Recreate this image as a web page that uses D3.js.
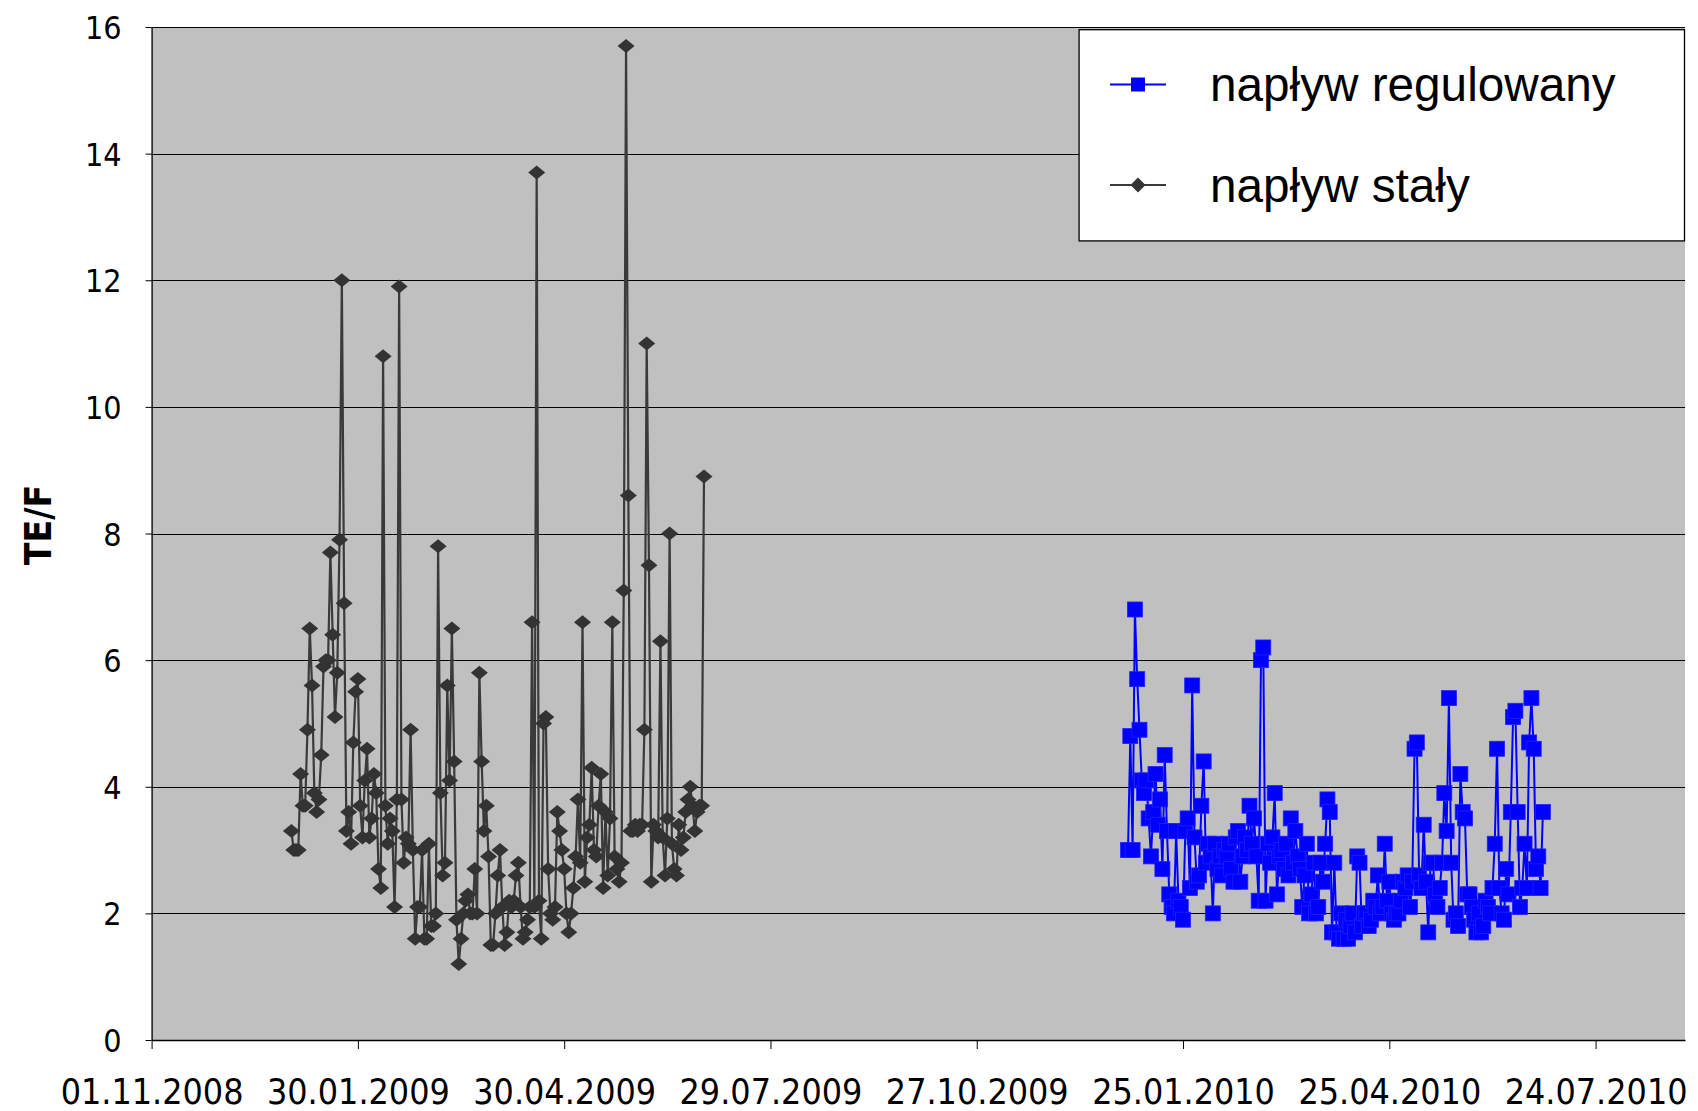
<!DOCTYPE html>
<html>
<head>
<meta charset="utf-8">
<script src="https://cdn.jsdelivr.net/npm/d3@7"></script>
<style>
  html, body { margin: 0; padding: 0; background: #ffffff; }
  svg { display: block; }
</style>
</head>
<body>
<svg id="chart" width="1698" height="1111"></svg>
<script>
// ---------------- DATA ----------------
const xTickLabels = ["01.11.2008", "30.01.2009", "30.04.2009", "29.07.2009",
                     "27.10.2009", "25.01.2010", "25.04.2010", "24.07.2010"];
const xDomainLabels = ["01.11.2008", "01.09.2010"];
const yTicks = [0, 2, 4, 6, 8, 10, 12, 14, 16];
const seriesNames = ["napływ regulowany", "napływ stały"];

// napływ regulowany: daily values starting 01.01.2010
const regulowanyStart = "01.01.2010";
const regulowanyValues = [
  3.0, 4.8, 3.0, 6.8, 5.7, 4.9, 4.1, 3.9, 4.1, 3.5,
  2.9, 3.6, 4.2, 3.4, 3.8, 2.7, 4.5, 3.3, 2.3, 2.1,
  2.0, 3.3, 2.2, 2.1, 1.9, 3.3, 3.5, 2.4, 5.6, 3.2,
  2.5, 2.6, 3.7, 4.4, 2.8, 3.1, 2.9, 2.0, 3.1, 2.7,
  2.9, 2.6, 3.0, 2.9, 3.1, 2.7, 2.5, 3.2, 3.3, 2.5,
  2.9, 3.2, 3.0, 3.7, 3.1, 3.5, 2.9, 2.2, 6.0, 6.2,
  2.2, 3.1, 2.8, 3.2, 3.9, 2.3, 2.9, 3.0, 2.7, 3.1,
  2.6, 3.5, 2.8, 3.3, 2.9, 2.7, 2.1, 2.6, 3.1, 2.0,
  2.3, 2.8, 2.0, 2.1, 2.8, 2.5, 3.1, 3.8, 3.6, 1.7,
  2.8, 1.7, 1.6, 2.0, 1.6, 1.9, 1.6, 1.8, 2.0, 1.7,
  2.9, 2.8, 1.8, 2.0, 2.0, 1.8, 1.9, 2.2, 2.1, 2.6,
  2.0, 2.1, 3.1, 2.2, 2.5, 2.0, 1.9, 2.0, 2.0, 2.2,
  2.5, 2.4, 2.6, 2.1, 2.5, 4.6, 4.7, 2.6, 2.4, 3.4,
  2.5, 1.7, 2.8, 2.8, 2.3, 2.1, 2.4, 2.8, 3.9, 3.3,
  5.4, 2.8, 1.9, 2.0, 1.8, 4.2, 3.6, 3.5, 2.3, 2.3,
  2.1, 1.9, 1.7, 2.0, 1.7, 1.8, 2.2, 2.1, 2.0, 2.4,
  3.1, 4.6, 2.4, 2.0, 1.9, 2.7, 2.3, 3.6, 5.1, 5.2,
  3.6, 2.1, 2.4, 3.1, 2.4, 4.7, 5.4, 4.6, 2.7, 2.9,
  2.4, 3.6
];

// napływ stały: daily values starting 01.01.2009
const stalyStart = "01.01.2009";
const stalyValues = [
  3.3, 3.0, 3.0, 3.0, 4.2, 3.7, 3.7, 4.9, 6.5, 5.6,
  3.9, 3.6, 3.8, 4.5, 5.9, 6.0, 6.0, 7.7, 6.4, 5.1,
  5.8, 7.9, 12.0, 6.9, 3.3, 3.6, 3.1, 4.7, 5.5, 5.7,
  3.7, 3.2, 4.1, 4.6, 3.2, 3.5, 4.2, 3.9, 2.7, 2.4,
  10.8, 3.7, 3.1, 3.5, 3.3, 2.1, 3.8, 11.9, 3.8, 2.8,
  3.2, 3.1, 4.9, 3.0, 1.6, 2.1, 2.1, 3.0, 1.6, 1.6,
  3.1, 1.8, 1.8, 2.0, 7.8, 3.9, 2.6, 2.8, 5.6, 4.1,
  6.5, 4.4, 1.9, 1.2, 1.6, 2.0, 2.2, 2.3, 2.0, 2.0,
  2.7, 2.0, 5.8, 4.4, 3.3, 3.7, 2.9, 1.5, 1.5, 2.0,
  2.6, 3.0, 2.1, 1.5, 1.7, 2.2, 2.1, 2.2, 2.6, 2.8,
  2.1, 1.6, 1.7, 1.9, 2.1, 6.6, 2.1, 13.7, 2.2, 1.6,
  5.0, 5.1, 2.7, 2.0, 1.9, 2.1, 3.6, 3.3, 3.0, 2.7,
  2.0, 1.7, 2.0, 2.4, 2.9, 3.8, 2.8, 6.6, 2.5, 3.2,
  3.4, 4.3, 3.0, 2.9, 3.7, 4.2, 2.4, 3.6, 2.6, 3.5,
  6.6, 2.9, 2.7, 2.5, 2.8, 7.1, 15.7, 8.6, 3.3, 3.3,
  3.4, 3.3, 3.4, 3.4, 4.9, 11.0, 7.5, 2.5, 3.4, 3.3,
  3.2, 6.3, 3.2, 2.6, 3.5, 8.0, 3.1, 2.7, 2.6, 3.4,
  3.0, 3.2, 3.6, 3.8, 4.0, 3.7, 3.3, 3.6, 3.7, 3.7,
  8.9
];

// ---------------- CHART ----------------
const plot = { left: 151.6, right: 1685, top: 27, bottom: 1040 };
const parse = d3.utcParse("%d.%m.%Y");
const fmt = d3.utcFormat("%d.%m.%Y");

const tickFont = "'DejaVu Sans Condensed', 'DejaVu Sans', sans-serif";

const x = d3.scaleUtc()
  .domain(xDomainLabels.map(parse))
  .range([plot.left, plot.right]);
const y = d3.scaleLinear()
  .domain([yTicks[0], yTicks[yTicks.length - 1]])
  .range([plot.bottom, plot.top]);

const build = (start, vals) => {
  const s = parse(start);
  return vals.map((v, i) => ({ date: d3.utcDay.offset(s, i), v }));
};
const regData = build(regulowanyStart, regulowanyValues);
const staData = build(stalyStart, stalyValues);

const svg = d3.select("#chart");

// plot background
svg.append("rect")
  .attr("x", plot.left).attr("y", plot.top)
  .attr("width", plot.right - plot.left)
  .attr("height", plot.bottom - plot.top)
  .attr("fill", "#c0c0c0");

// gridlines
svg.append("g").selectAll("line")
  .data(yTicks.filter(t => t > 0))
  .join("line")
  .attr("x1", plot.left).attr("x2", plot.right)
  .attr("y1", d => Math.round(y(d)) + 0.5).attr("y2", d => Math.round(y(d)) + 0.5)
  .attr("stroke", "#000").attr("stroke-width", 1);

// y axis
const yAxis = svg.append("g")
  .attr("transform", `translate(${plot.left},0)`)
  .call(d3.axisLeft(y).tickValues(yTicks).tickSize(6).tickPadding(24).tickSizeOuter(0));
yAxis.select(".domain").attr("stroke", "#000").attr("stroke-width", 1.3);
yAxis.selectAll(".tick line").attr("stroke", "#000");
yAxis.selectAll("text")
  .attr("font-family", tickFont).attr("font-size", 32).attr("fill", "#000")
  .attr("dy", "0.36em");

// x axis
const xAxis = svg.append("g")
  .attr("transform", `translate(0,${plot.bottom})`)
  .call(d3.axisBottom(x).tickValues(xTickLabels.map(parse)).tickFormat(fmt)
    .tickSize(9).tickPadding(30).tickSizeOuter(0));
xAxis.select(".domain").attr("stroke", "#000").attr("stroke-width", 1.3);
xAxis.selectAll(".tick line").attr("stroke", "#000");
xAxis.selectAll("text")
  .attr("font-family", tickFont).attr("font-size", 35.5).attr("fill", "#000");

// y title
svg.append("text")
  .attr("transform", "translate(51,525) rotate(-90)")
  .attr("text-anchor", "middle")
  .attr("font-family", tickFont)
  .attr("font-weight", "bold")
  .attr("font-size", 37)
  .attr("fill", "#000")
  .text("TE/F");

// lines
const line = d3.line().x(d => x(d.date)).y(d => y(d.v));
const blue = "#0000ff", dark = "#333333";

svg.append("path").datum(regData)
  .attr("d", line).attr("fill", "none")
  .attr("stroke", blue).attr("stroke-width", 2);
svg.append("g").selectAll("rect")
  .data(regData).join("rect")
  .attr("x", d => x(d.date) - 7.5).attr("y", d => y(d.v) - 7.5)
  .attr("width", 15).attr("height", 15)
  .attr("fill", blue).attr("stroke", "#2020ff").attr("stroke-width", 0.8);

svg.append("path").datum(staData)
  .attr("d", line).attr("fill", "none")
  .attr("stroke", "#3a3a3a").attr("stroke-width", 2.2);
const diamond = (w, h) => `M0,${-h}L${w},0L0,${h}L${-w},0Z`;
svg.append("g").selectAll("path")
  .data(staData).join("path")
  .attr("transform", d => `translate(${x(d.date)},${y(d.v)})`)
  .attr("d", diamond(8.5, 7))
  .attr("fill", dark);

// legend
const lg = { x: 1078.6, y: 29.2, w: 1685 - 1078.6, h: 240.4 - 29.2 };
const legend = svg.append("g");
legend.append("rect")
  .attr("x", lg.x + 0.5).attr("y", lg.y + 0.5)
  .attr("width", lg.w - 1).attr("height", lg.h)
  .attr("fill", "#fff").attr("stroke", "#000").attr("stroke-width", 1.3);

const rows = [
  { name: seriesNames[0], cy: 84.5, marker: "square" },
  { name: seriesNames[1], cy: 185, marker: "diamond" }
];
const lrow = legend.selectAll("g.row").data(rows).join("g").attr("class", "row")
  .attr("transform", d => `translate(0,${d.cy})`);
lrow.append("line")
  .attr("x1", 1110).attr("x2", 1166).attr("y1", 0).attr("y2", 0)
  .attr("stroke", d => d.marker === "square" ? blue : "#3a3a3a").attr("stroke-width", 2);
lrow.filter(d => d.marker === "square").append("rect")
  .attr("x", 1138 - 7).attr("y", -7).attr("width", 14).attr("height", 14)
  .attr("fill", blue);
lrow.filter(d => d.marker === "diamond").append("path")
  .attr("transform", "translate(1138,0)")
  .attr("d", diamond(7.5, 7.5)).attr("fill", dark);
lrow.append("text")
  .attr("x", 1210).attr("y", 0).attr("dy", "0.35em")
  .attr("font-family", "'Liberation Sans', Arial, sans-serif")
  .attr("font-size", 47.7).attr("fill", "#000")
  .text(d => d.name);
</script>
</body>
</html>
